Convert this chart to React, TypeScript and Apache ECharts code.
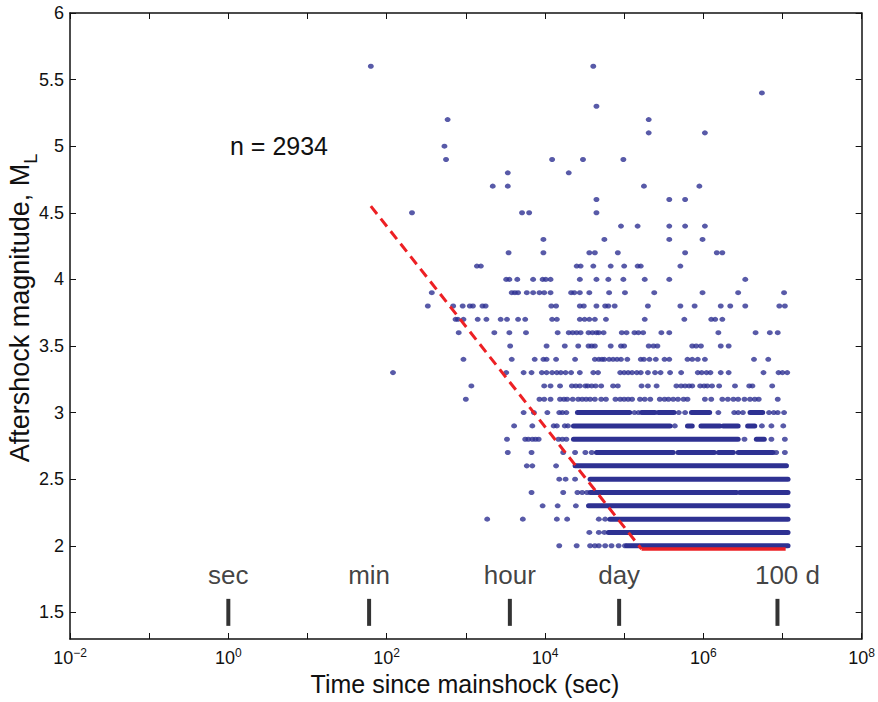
import React, { useEffect, useRef } from "react";
import * as echarts from "echarts";

// Isolated events per magnitude row: [magnitude, log10(time since mainshock, s)]
const upperRows: [number, number[]][] = [
  [5.6, [1.8, 4.61]],
  [5.4, [6.74]],
  [5.3, [4.65]],
  [5.2, [2.77, 5.31]],
  [5.1, [5.31, 6.02]],
  [5.0, [2.73]],
  [4.9, [2.75, 4.09, 4.48, 4.99]],
  [4.8, [3.53, 4.3]],
  [4.7, [3.34, 3.53, 5.25, 5.95]],
  [4.6, [4.65, 5.57, 5.77]],
  [4.5, [2.32, 3.71, 3.8, 4.65]],
  [4.4, [4.96, 5.17, 5.57, 5.77, 6.02]],
  [4.3, [3.98, 4.75, 5.57, 5.99]],
  [4.2, [3.54, 3.98, 4.56, 4.63, 4.92, 5.77, 6.17, 6.24]],
  [4.1, [3.14, 3.19, 4.4, 4.45, 4.61, 4.83, 5.0, 5.17, 5.21, 5.71]],
  [4.0, [3.51, 3.55, 3.65, 3.85, 3.97, 4.01, 4.07, 4.44, 4.65, 4.8, 4.99, 5.26, 5.57, 6.53]],
];

const middleRows: [number, number[]][] = [
  [3.9, [2.57, 3.58, 3.62, 3.66, 3.77, 3.85, 3.93, 3.99, 4.07, 4.33, 4.37, 4.44, 4.56, 4.81, 5.01, 5.38, 5.99, 6.44, 7.02]],
  [3.8, [2.52, 2.84, 2.96, 3.05, 3.09, 3.21, 3.25, 4.08, 4.14, 4.44, 4.49, 4.65, 4.76, 4.8, 4.88, 5.3, 5.71, 5.89, 6.22, 6.34, 6.53, 6.96, 7.03]],
  [3.7, [2.87, 2.9, 2.97, 3.15, 3.26, 3.44, 3.52, 3.66, 3.75, 4.09, 4.15, 4.44, 4.5, 4.56, 4.63, 4.77, 5.26, 5.76, 6.1, 6.15, 6.24]],
  [3.6, [2.91, 3.36, 3.55, 3.76, 4.16, 4.3, 4.35, 4.4, 4.45, 4.55, 4.6, 4.65, 4.68, 4.74, 4.97, 5.03, 5.13, 5.18, 5.24, 5.47, 5.57, 6.19, 6.66, 6.84, 6.94]],
  [3.5, [3.56, 4.02, 4.25, 4.42, 4.55, 4.59, 4.63, 4.83, 4.96, 5.0, 5.31, 5.37, 5.42, 5.86, 5.91, 5.97, 6.22, 6.32]],
  [3.4, [2.97, 3.58, 3.87, 3.98, 4.02, 4.14, 4.38, 4.63, 4.68, 4.72, 4.75, 4.81, 4.86, 4.91, 4.96, 5.04, 5.21, 5.25, 5.32, 5.4, 5.51, 5.57, 5.8, 5.86, 5.93, 6.02, 6.64, 6.82]],
  [3.3, [2.08, 3.51, 3.73, 3.83, 3.96, 4.02, 4.09, 4.15, 4.2, 4.26, 4.33, 4.44, 4.61, 4.67, 4.95, 5.0, 5.05, 5.1, 5.16, 5.21, 5.3, 5.39, 5.46, 5.58, 5.72, 5.93, 5.98, 6.04, 6.09, 6.22, 6.32, 6.76, 6.95, 7.0, 7.06]],
  [3.2, [3.07, 3.99, 4.07, 4.19, 4.34, 4.39, 4.44, 4.51, 4.54, 4.59, 4.64, 4.71, 4.86, 4.92, 5.22, 5.3, 5.41, 5.66, 5.72, 5.77, 5.82, 5.86, 5.96, 6.01, 6.05, 6.11, 6.2, 6.4, 6.58, 6.62, 6.87]],
  [3.1, [3.0, 3.93, 3.99, 4.07, 4.19, 4.24, 4.28, 4.35, 4.42, 4.47, 4.52, 4.57, 4.63, 4.71, 4.77, 4.89, 4.95, 5.0, 5.05, 5.1, 5.2, 5.26, 5.33, 5.45, 5.51, 5.56, 5.62, 5.68, 5.75, 5.8, 6.02, 6.1, 6.24, 6.31, 6.38, 6.44, 6.52, 6.59, 6.65, 6.7, 6.94]],
  [3.0, [3.73, 3.86, 4.03, 4.18, 4.22, 4.27, 5.13, 5.18, 5.69, 5.77, 6.19, 6.39, 6.44, 6.5, 6.83, 6.89, 6.94, 7.02]],
];

const lowerRows: [number, number[]][] = [
  [2.9, [3.61, 3.84, 4.11, 4.15, 4.25, 4.29, 5.64, 6.74, 6.86, 7.01]],
  [2.8, [3.52, 3.75, 3.79, 3.84, 3.88, 3.92, 4.17, 4.22, 4.27, 6.52, 6.86, 7.03]],
  [2.7, [3.53, 3.83, 4.23, 4.38, 4.51, 4.59, 6.92, 7.03]],
  [2.6, [3.77, 3.84, 4.14]],
  [2.5, [4.18, 4.26, 4.38]],
  [2.4, [3.83, 4.23, 4.41, 4.47, 4.53]],
  [2.3, [3.97, 4.16, 4.39]],
  [2.2, [3.27, 3.72, 4.15, 4.28, 4.68, 4.76]],
  [2.1, [4.56, 4.68, 4.75]],
  [2.0, [4.18, 4.4, 4.57, 4.63, 4.68, 4.76, 4.84, 4.93, 5.01]],
];

// Runs of events so dense that the dots merge: [magnitude, log10 start, log10 end]
const denseRuns: [number, number, number][] = [
  [3.0, 4.41, 5.07], [3.0, 5.22, 5.39], [3.0, 5.43, 5.63], [3.0, 5.85, 6.08], [3.0, 6.59, 6.75],
  [2.9, 4.36, 5.58], [2.9, 5.8, 5.86], [2.9, 5.97, 6.21], [2.9, 6.25, 6.44], [2.9, 6.56, 6.65],
  [2.8, 4.36, 6.44], [2.8, 6.67, 6.77],
  [2.7, 4.65, 5.62], [2.7, 5.68, 6.14], [2.7, 6.19, 6.38], [2.7, 6.44, 6.88],
  [2.6, 4.38, 7.05],
  [2.5, 4.57, 7.07],
  [2.4, 4.57, 6.42], [2.4, 6.46, 7.07],
  [2.3, 4.55, 7.07],
  [2.2, 4.82, 7.07],
  [2.1, 4.8, 7.07],
  [2.0, 5.03, 7.07],
];

// Completeness magnitude: [log10 t, M]
const mcDashed: [number, number][] = [[1.8, 4.55], [5.22, 1.975]];
const mcFlat: [number, number][] = [[5.22, 1.975], [7.04, 1.975]];

const markTimes = [1, 60, 3600, 86400, 8640000];
const markNames = ["sec", "min", "hour", "day", "100 d"];
const markLevel = 1.5;

const xTickValues = [0.01, 0.1, 1, 10, 100, 1e3, 1e4, 1e5, 1e6, 1e7, 1e8];
const xLabelValues = [0.01, 1, 100, 1e4, 1e6, 1e8];
const yTickValues = [1.5, 2, 2.5, 3, 3.5, 4, 4.5, 5, 5.5, 6];
const eventCount = 2934;

const FONT = "'Liberation Sans', Arial, Helvetica, sans-serif";
const INK = "#111111";
const BLUE = "#2e3192";
const RED = "#ed2024";

const toPoints = (rows: [number, number[]][]) =>
  rows.flatMap(([m, es]) => es.map((e) => [Math.pow(10, e), m]));

const supLabel = (v: number) => {
  const e = Math.round(Math.log10(v));
  return `{b|10}{s|${e < 0 ? "\u2212" + -e : e}}`;
};

function buildOption(): any {
  const axisLine = { show: true, onZero: false, lineStyle: { color: INK, width: 1.5 } };
  const tick = (values: number[]) => ({
    show: true,
    inside: true,
    length: 6,
    customValues: values,
    lineStyle: { color: INK, width: 1 },
  });
  const runSeries = denseRuns.map(([m, a, b]) => ({
    type: "line",
    silent: true,
    symbol: "none",
    data: [[Math.pow(10, a), m], [Math.pow(10, b), m]],
    lineStyle: { color: BLUE, width: 5, cap: "round" },
    z: 2,
  }));
  return {
    animation: false,
    backgroundColor: "#fff",
    grid: { left: 70, right: 14, top: 13, bottom: 63, containLabel: false },
    xAxis: [
      {
        type: "log",
        logBase: 10,
        min: 0.01,
        max: 1e8,
        position: "bottom",
        axisLine,
        axisTick: tick(xTickValues),
        axisLabel: {
          show: true,
          customValues: xLabelValues,
          margin: 8,
          formatter: supLabel,
          rich: {
            b: { fontSize: 18, fontFamily: FONT, color: INK, lineHeight: 20, verticalAlign: "bottom" },
            s: { fontSize: 12, fontFamily: FONT, color: INK, lineHeight: 7, verticalAlign: "top" },
          },
        },
        splitLine: { show: false },
        minorTick: { show: false },
      },
      {
        type: "log",
        logBase: 10,
        min: 0.01,
        max: 1e8,
        position: "top",
        axisLine,
        axisTick: tick(xTickValues),
        axisLabel: { show: false },
        splitLine: { show: false },
      },
    ],
    yAxis: [
      {
        type: "value",
        min: 1.3,
        max: 6,
        position: "left",
        axisLine,
        axisTick: tick(yTickValues),
        axisLabel: {
          show: true,
          customValues: yTickValues,
          margin: 6,
          fontSize: 18,
          fontFamily: FONT,
          color: INK,
        },
        splitLine: { show: false },
      },
      {
        type: "value",
        min: 1.3,
        max: 6,
        position: "right",
        axisLine,
        axisTick: tick(yTickValues),
        axisLabel: { show: false },
        splitLine: { show: false },
      },
    ],
    series: [
      ...runSeries,
      {
        type: "scatter",
        silent: true,
        symbol: "circle",
        symbolSize: [6, 5],
        itemStyle: { color: BLUE },
        data: [...toPoints(upperRows), ...toPoints(middleRows), ...toPoints(lowerRows)],
        z: 3,
      },
      {
        type: "line",
        silent: true,
        symbol: "none",
        data: mcDashed.map(([e, m]) => [Math.pow(10, e), m]),
        lineStyle: { color: RED, width: 3, type: [10, 6] },
        z: 4,
      },
      {
        type: "line",
        silent: true,
        symbol: "none",
        data: mcFlat.map(([e, m]) => [Math.pow(10, e), m]),
        lineStyle: { color: RED, width: 3.5 },
        z: 4,
      },
      {
        type: "scatter",
        silent: true,
        symbol: "rect",
        symbolSize: [4, 27],
        itemStyle: { color: "#000" },
        data: markTimes.map((t, i) => ({
          name: markNames[i],
          value: [t, markLevel],
          label: i === markTimes.length - 1 ? { offset: [10, 0] } : undefined,
        })),
        label: {
          show: true,
          position: "top",
          distance: 11,
          formatter: "{b}",
          fontSize: 26,
          lineHeight: 26,
          fontFamily: FONT,
          color: INK,
        },
        z: 5,
      },
    ],
    graphic: [
      {
        type: "text",
        x: 230,
        y: 146,
        style: {
          text: `n = ${eventCount}`,
          fontSize: 25,
          fontFamily: FONT,
          fill: INK,
          align: "left",
          verticalAlign: "middle",
        },
      },
      {
        type: "text",
        x: 465,
        y: 684,
        style: {
          text: "Time since mainshock (sec)",
          fontSize: 25,
          fontFamily: FONT,
          fill: INK,
          align: "center",
          verticalAlign: "middle",
        },
      },
      {
        type: "text",
        x: 23,
        y: 308,
        rotation: Math.PI / 2,
        style: {
          text: "{a|Aftershock magnitude, M}{l|L}",
          align: "center",
          verticalAlign: "middle",
          rich: {
            a: { fontSize: 27, fontFamily: FONT, fill: INK, color: INK, lineHeight: 34, verticalAlign: "top" },
            l: { fontSize: 18, fontFamily: FONT, fill: INK, color: INK, lineHeight: 14, verticalAlign: "bottom" },
          },
        },
      },
    ],
  };
}

export default function App() {
  const ref = useRef<HTMLDivElement>(null);
  useEffect(() => {
    if (!ref.current) return;
    const chart = echarts.init(ref.current, null, { renderer: "svg" });
    chart.setOption(buildOption());
    return () => chart.dispose();
  }, []);
  return (
    <div
      ref={ref}
      style={{ position: "fixed", left: 0, top: 0, width: 878, height: 702, background: "#fff" }}
    />
  );
}
